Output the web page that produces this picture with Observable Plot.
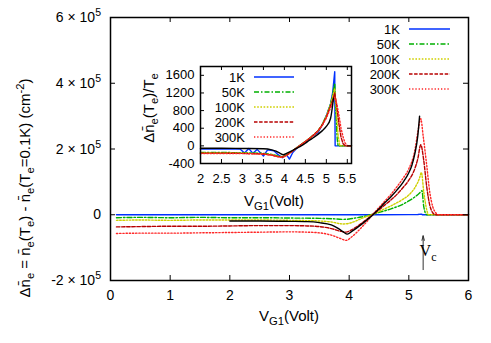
<!DOCTYPE html>
<html><head><meta charset="utf-8">
<script src="https://cdn.jsdelivr.net/npm/d3@7"></script>
<script src="https://cdn.jsdelivr.net/npm/@observablehq/plot@0.6"></script>
<style>
body{margin:0;background:#fff;}
#wrap{position:relative;width:491px;height:343px;}
#wrap svg{position:absolute;left:0;top:0;}
text{white-space:pre;}
</style></head><body><div id="wrap"></div>
<script>
// ---------- data (main plot) ----------
const seriesKeys = ["1K","50K","100K","200K","300K"];
const mainXTicks = [0,1,2,3,4,5,6];
const mainYTicks = [-200000,0,200000,400000,600000];

const main1K_x = [0.1,1,2,3,4,4.5,5,5.15,5.21,5.23,6];
const main1K_y = [0,0,0,0,0,0,300,800,1800,0,0];

const main50K_x = [0.1,0.5,1,1.5,2,2.5,3,3.5,3.7,3.9,4.0,4.1,4.2,4.3,4.4,4.5,4.7,4.9,5.0,5.1,5.18,5.22,5.25,5.3,6];
const main50K_y = [-9000,-8000,-9000,-8000,-9000,-9000,-10000,-11000,-12000,-14000,-13000,-10000,-7000,-3000,1500,7000,18000,32000,42000,54000,66000,73000,25000,0,0];

const main100K_x = [0.1,0.5,1,1.5,2,2.5,3,3.5,3.7,3.9,4.0,4.1,4.2,4.3,4.4,4.5,4.7,4.9,5.0,5.1,5.18,5.21,5.25,5.3,5.33,6];
const main100K_y = [-17000,-16000,-17000,-16000,-16000,-16000,-17000,-19000,-22000,-28000,-26000,-20000,-12000,-5000,1000,10000,27000,47000,60000,82000,112000,129000,70000,15000,0,0];

const main200K_x = [0.1,0.5,1,1.5,2,2.5,3,3.3,3.5,3.7,3.85,3.95,4.05,4.2,4.3,4.4,4.5,4.6,4.7,4.8,4.9,5.0,5.1,5.15,5.2,5.25,5.3,5.35,5.4,5.45,6];
const main200K_y = [-37000,-36000,-35000,-35000,-34000,-33000,-33000,-34000,-36000,-42000,-50000,-53000,-45000,-27000,-13000,1000,15000,30000,45000,62000,82000,105000,140000,170000,213000,165000,85000,30000,6000,0,0];

const main300K_x = [0.1,0.5,1,1.5,2,2.5,3,3.3,3.5,3.7,3.85,3.95,4.05,4.2,4.3,4.4,4.5,4.6,4.7,4.8,4.9,5.0,5.1,5.15,5.2,5.24,5.3,5.35,5.4,5.45,5.5,6];
const main300K_y = [-57000,-56000,-56000,-55000,-54000,-53000,-52000,-53000,-55000,-62000,-72000,-78000,-66000,-40000,-20000,2000,22000,42000,62000,85000,110000,140000,195000,250000,292000,240000,150000,70000,25000,6000,0,0];

const mainRef_x = [2.0,2.5,3.0,3.3,3.5,3.7,3.8,3.9,3.97,4.05,4.2,4.3,4.4,4.5,4.6,4.7,4.8,4.9,5.0,5.05,5.1,5.15,5.18];
const mainRef_y = [-19000,-19000,-20000,-21000,-24000,-31000,-40000,-52000,-59000,-50000,-30000,-15000,0,18000,37000,55000,75000,98000,128000,150000,185000,240000,300000];

const vcArrow = [{x:5.24, y1:-167000, y2:-64000}];
const vcLabel = {x:5.33, y:-128000};

// ---------- data (inset) ----------
const insetXTicks = [2,2.5,3,3.5,4,4.5,5,5.5];
const insetYTicks = [-400,0,400,800,1200,1600];

const in1K_x = [2.0,2.8,2.95,3.05,3.15,3.25,3.35,3.5,3.6,3.75,3.85,3.95,4.05,4.12,4.2,4.3,4.4,4.5,4.6,4.7,4.8,4.9,5.0,5.1,5.15,5.2,5.21,5.6];
const in1K_y = [-70,-70,-75,-160,-60,-170,-80,-230,-90,-110,-200,-270,-200,-300,-150,-50,30,90,160,240,300,470,680,950,1200,1680,0,0];

const in50K_x = [2.0,2.5,3.0,3.5,3.7,3.85,3.95,4.05,4.2,4.3,4.4,4.5,4.6,4.7,4.8,4.9,5.0,5.1,5.15,5.2,5.23,5.26,5.28,5.6];
const in50K_y = [-150,-150,-155,-170,-195,-230,-245,-210,-110,-40,30,100,170,250,340,480,680,950,1150,1420,700,150,0,0];

const in100K_x = [2.0,2.5,3.0,3.5,3.7,3.85,3.95,4.05,4.2,4.3,4.4,4.5,4.6,4.7,4.8,4.9,5.0,5.1,5.15,5.2,5.24,5.28,5.32,5.6];
const in100K_y = [-160,-160,-165,-180,-205,-240,-250,-210,-110,-40,30,100,170,250,340,480,670,930,1120,1300,800,250,0,0];

const in200K_x = [2.0,2.5,3.0,3.5,3.7,3.85,3.95,4.05,4.2,4.3,4.4,4.5,4.6,4.7,4.8,4.9,5.0,5.1,5.15,5.2,5.25,5.3,5.35,5.4,5.45,5.6];
const in200K_y = [-165,-165,-170,-185,-210,-245,-255,-215,-110,-40,30,100,170,250,340,470,650,900,1030,1200,900,500,200,50,0,0];

const in300K_x = [2.0,2.5,3.0,3.5,3.7,3.85,3.95,4.05,4.2,4.3,4.4,4.5,4.6,4.7,4.8,4.9,5.0,5.1,5.15,5.2,5.25,5.3,5.35,5.4,5.45,5.5,5.6];
const in300K_y = [-175,-175,-175,-185,-210,-250,-265,-220,-120,-45,25,95,165,240,330,460,630,860,980,1100,950,700,400,200,60,0,0];

const inRef_x = [2.0,2.5,3.0,3.5,3.7,3.8,3.9,3.97,4.05,4.2,4.3,4.4,4.5,4.6,4.7,4.8,4.9,5.0,5.1,5.17];
const inRef_y = [-55,-55,-60,-65,-90,-120,-170,-200,-170,-100,-50,0,60,130,190,260,340,440,620,1080];

// ---------- styles ----------
const FONT = '"Liberation Sans", Arial, Helvetica, sans-serif';
const lineStyles = {
  "1K":  {stroke:"#0030ff", dash:null},
  "50K": {stroke:"#00b000", dash:"5,2,1.5,2"},
  "100K":{stroke:"#d0d000", dash:"1.6,1.6"},
  "200K":{stroke:"#b80000", dash:"3.5,1.6"},
  "300K":{stroke:"#ff2626", dash:"1.3,1.9"},
  "ref": {stroke:"#000000", dash:null}
};
function rows(xs, ys){ return xs.map((x,i)=>({x, y: ys[i]})); }
function lineMark(data, key, curve){
  const s = lineStyles[key];
  const o = {x:"x", y:"y", stroke:s.stroke, strokeWidth:1.4, curve};
  if (s.dash) o.strokeDasharray = s.dash;
  return Plot.line(data, o);
}
function richText(parent, parts, attrs){
  const t = parent.append("text");
  for (const [k,v] of Object.entries(attrs)) t.attr(k,v);
  const fs = parseFloat(attrs["font-size"]);
  let cur = 0;
  for (const [s, mode] of parts){
    const target = mode==="sub" ? 0.28 : mode==="sup" ? -0.42 : 0;
    const span = t.append("tspan").text(s);
    const shift = (target - cur)*fs;
    if (shift) span.attr("dy", shift.toFixed(2));
    if (mode) span.attr("font-size", (fs*0.75).toFixed(2));
    cur = target;
  }
  return t;
}
const fmt = d => String(d);

// ---------- main plot ----------
const mW = 491, mH = 343, mL = 110, mR = 23, mT = 17, mB = 63;
const innerW = mW - mL - mR, innerH = mH - mT - mB;
const mainPlot = Plot.plot({
  width:mW, height:mH, marginLeft:mL, marginRight:mR, marginTop:mT, marginBottom:mB,
  style:{fontFamily:FONT, fontSize:"14px", background:"transparent", color:"black", overflow:"visible"},
  x:{domain:[0,6], ticks:mainXTicks, tickSize:0, tickPadding:10, tickFormat:fmt, label:null},
  y:{domain:[-200000,600000], axis:null},
  marks:[
    lineMark(rows(main1K_x, main1K_y), "1K", "linear"),
    lineMark(rows(main50K_x, main50K_y), "50K", "monotone-x"),
    lineMark(rows(main100K_x, main100K_y), "100K", "monotone-x"),
    lineMark(rows(main200K_x, main200K_y), "200K", "monotone-x"),
    lineMark(rows(main300K_x, main300K_y), "300K", "monotone-x"),
    lineMark(rows(mainRef_x, mainRef_y), "ref", "monotone-x"),
    Plot.arrow(vcArrow, {x1:"x", y1:"y1", x2:"x", y2:"y2", stroke:"#333", strokeWidth:1, headLength:7, headAngle:30}),
    Plot.tickX(mainXTicks, {x:d=>d, insetTop: innerH-5, stroke:"black", strokeWidth:1}),
    Plot.tickX(mainXTicks, {x:d=>d, insetBottom: innerH-5, stroke:"black", strokeWidth:1}),
    Plot.tickY(mainYTicks, {y:d=>d, insetRight: innerW-5, stroke:"black", strokeWidth:1}),
    Plot.tickY(mainYTicks, {y:d=>d, insetLeft: innerW-5, stroke:"black", strokeWidth:1}),
    Plot.frame({stroke:"black", strokeWidth:1.5})
  ]
});
document.getElementById("wrap").appendChild(mainPlot);
const ms = d3.select(mainPlot);
const mx = mainPlot.scale("x"), my = mainPlot.scale("y");
const gAnn = ms.append("g").attr("font-family", FONT).attr("fill","black");
for (const v of mainYTicks){
  const parts = v === 0 ? [["0",0]] : [[`${v/1e5} × 10`,0],["5","sup"]];
  richText(gAnn, parts, {x: mL-9, y: my.apply(v)+5, "text-anchor":"end", "font-size":14});
}
richText(gAnn, [["V",0],["G1","sub"],["(Volt)",0]], {x:(mL + mW - mR)/2, y:321, "text-anchor":"middle", "font-size":15});
richText(gAnn, [["Δn\u0304",0],["e","sub"],[" = n\u0304",0],["e","sub"],["(T",0],["e","sub"],[") - n\u0304",0],["e","sub"],["(T",0],["e","sub"],["=0.1K) (cm",0],["-2","sup"],[")",0]],
  {transform:"translate(30,188) rotate(-90)", "text-anchor":"middle", "font-size":15});
richText(gAnn, [["V",0],["c","sub"]], {x: mx.apply(vcLabel.x), y: my.apply(vcLabel.y), "font-size":16, "font-family":'"Liberation Serif", "Times New Roman", serif'});
const legY = [29,44,59,74,89];
seriesKeys.forEach((k,i)=>{
  gAnn.append("text").attr("x",400).attr("y",legY[i]).attr("dy","0.35em").attr("text-anchor","end").attr("font-size",13).text(k);
  const s = lineStyles[k];
  gAnn.append("line").attr("x1",409).attr("x2",450).attr("y1",legY[i]).attr("y2",legY[i])
    .attr("stroke",s.stroke).attr("stroke-width",1.4).attr("stroke-dasharray", s.dash);
});

// ---------- inset ----------
const iL = 200, iR = 140, iT = 66, iB = 180;
const iW = mW - iL - iR, iH = mH - iT - iB;
const inset = Plot.plot({
  width:mW, height:mH, marginLeft:iL, marginRight:iR, marginTop:iT, marginBottom:iB,
  style:{fontFamily:FONT, fontSize:"13px", background:"transparent", color:"black", overflow:"visible"},
  x:{domain:[2,5.6], ticks:insetXTicks, tickSize:0, tickPadding:10, tickFormat:fmt, label:null},
  y:{domain:[-400,1800], ticks:insetYTicks, tickSize:0, tickPadding:6, tickFormat:fmt, label:null},
  marks:[
    Plot.frame({fill:"white"}),
    lineMark(rows(in1K_x, in1K_y), "1K", "linear"),
    lineMark(rows(in50K_x, in50K_y), "50K", "linear"),
    lineMark(rows(in100K_x, in100K_y), "100K", "linear"),
    lineMark(rows(in200K_x, in200K_y), "200K", "linear"),
    lineMark(rows(in300K_x, in300K_y), "300K", "linear"),
    lineMark(rows(inRef_x, inRef_y), "ref", "monotone-x"),
    Plot.tickX(insetXTicks, {x:d=>d, insetTop: iH-4, stroke:"black"}),
    Plot.tickX(insetXTicks, {x:d=>d, insetBottom: iH-4, stroke:"black"}),
    Plot.tickY(insetYTicks, {y:d=>d, insetRight: iW-4, stroke:"black"}),
    Plot.tickY(insetYTicks, {y:d=>d, insetLeft: iW-4, stroke:"black"}),
    Plot.frame({stroke:"black", strokeWidth:1.5})
  ]
});
document.getElementById("wrap").appendChild(inset);
const is = d3.select(inset);
const gIn = is.append("g").attr("font-family", FONT).attr("fill","black");
richText(gIn, [["V",0],["G1","sub"],["(Volt)",0]], {x:274, y:206, "text-anchor":"middle", "font-size":15});
richText(gIn, [["Δn\u0304",0],["e","sub"],["(T",0],["e","sub"],[")/T",0],["e","sub"]],
  {transform:"translate(154,108) rotate(-90)", "text-anchor":"middle", "font-size":15});
const inLegY = [77,92,107,122,137];
seriesKeys.forEach((k,i)=>{
  gIn.append("text").attr("x",245).attr("y",inLegY[i]).attr("dy","0.35em").attr("text-anchor","end").attr("font-size",13).text(k);
  const s = lineStyles[k];
  gIn.append("line").attr("x1",254).attr("x2",294).attr("y1",inLegY[i]).attr("y2",inLegY[i])
    .attr("stroke",s.stroke).attr("stroke-width",1.4).attr("stroke-dasharray", s.dash);
});
</script></body></html>
